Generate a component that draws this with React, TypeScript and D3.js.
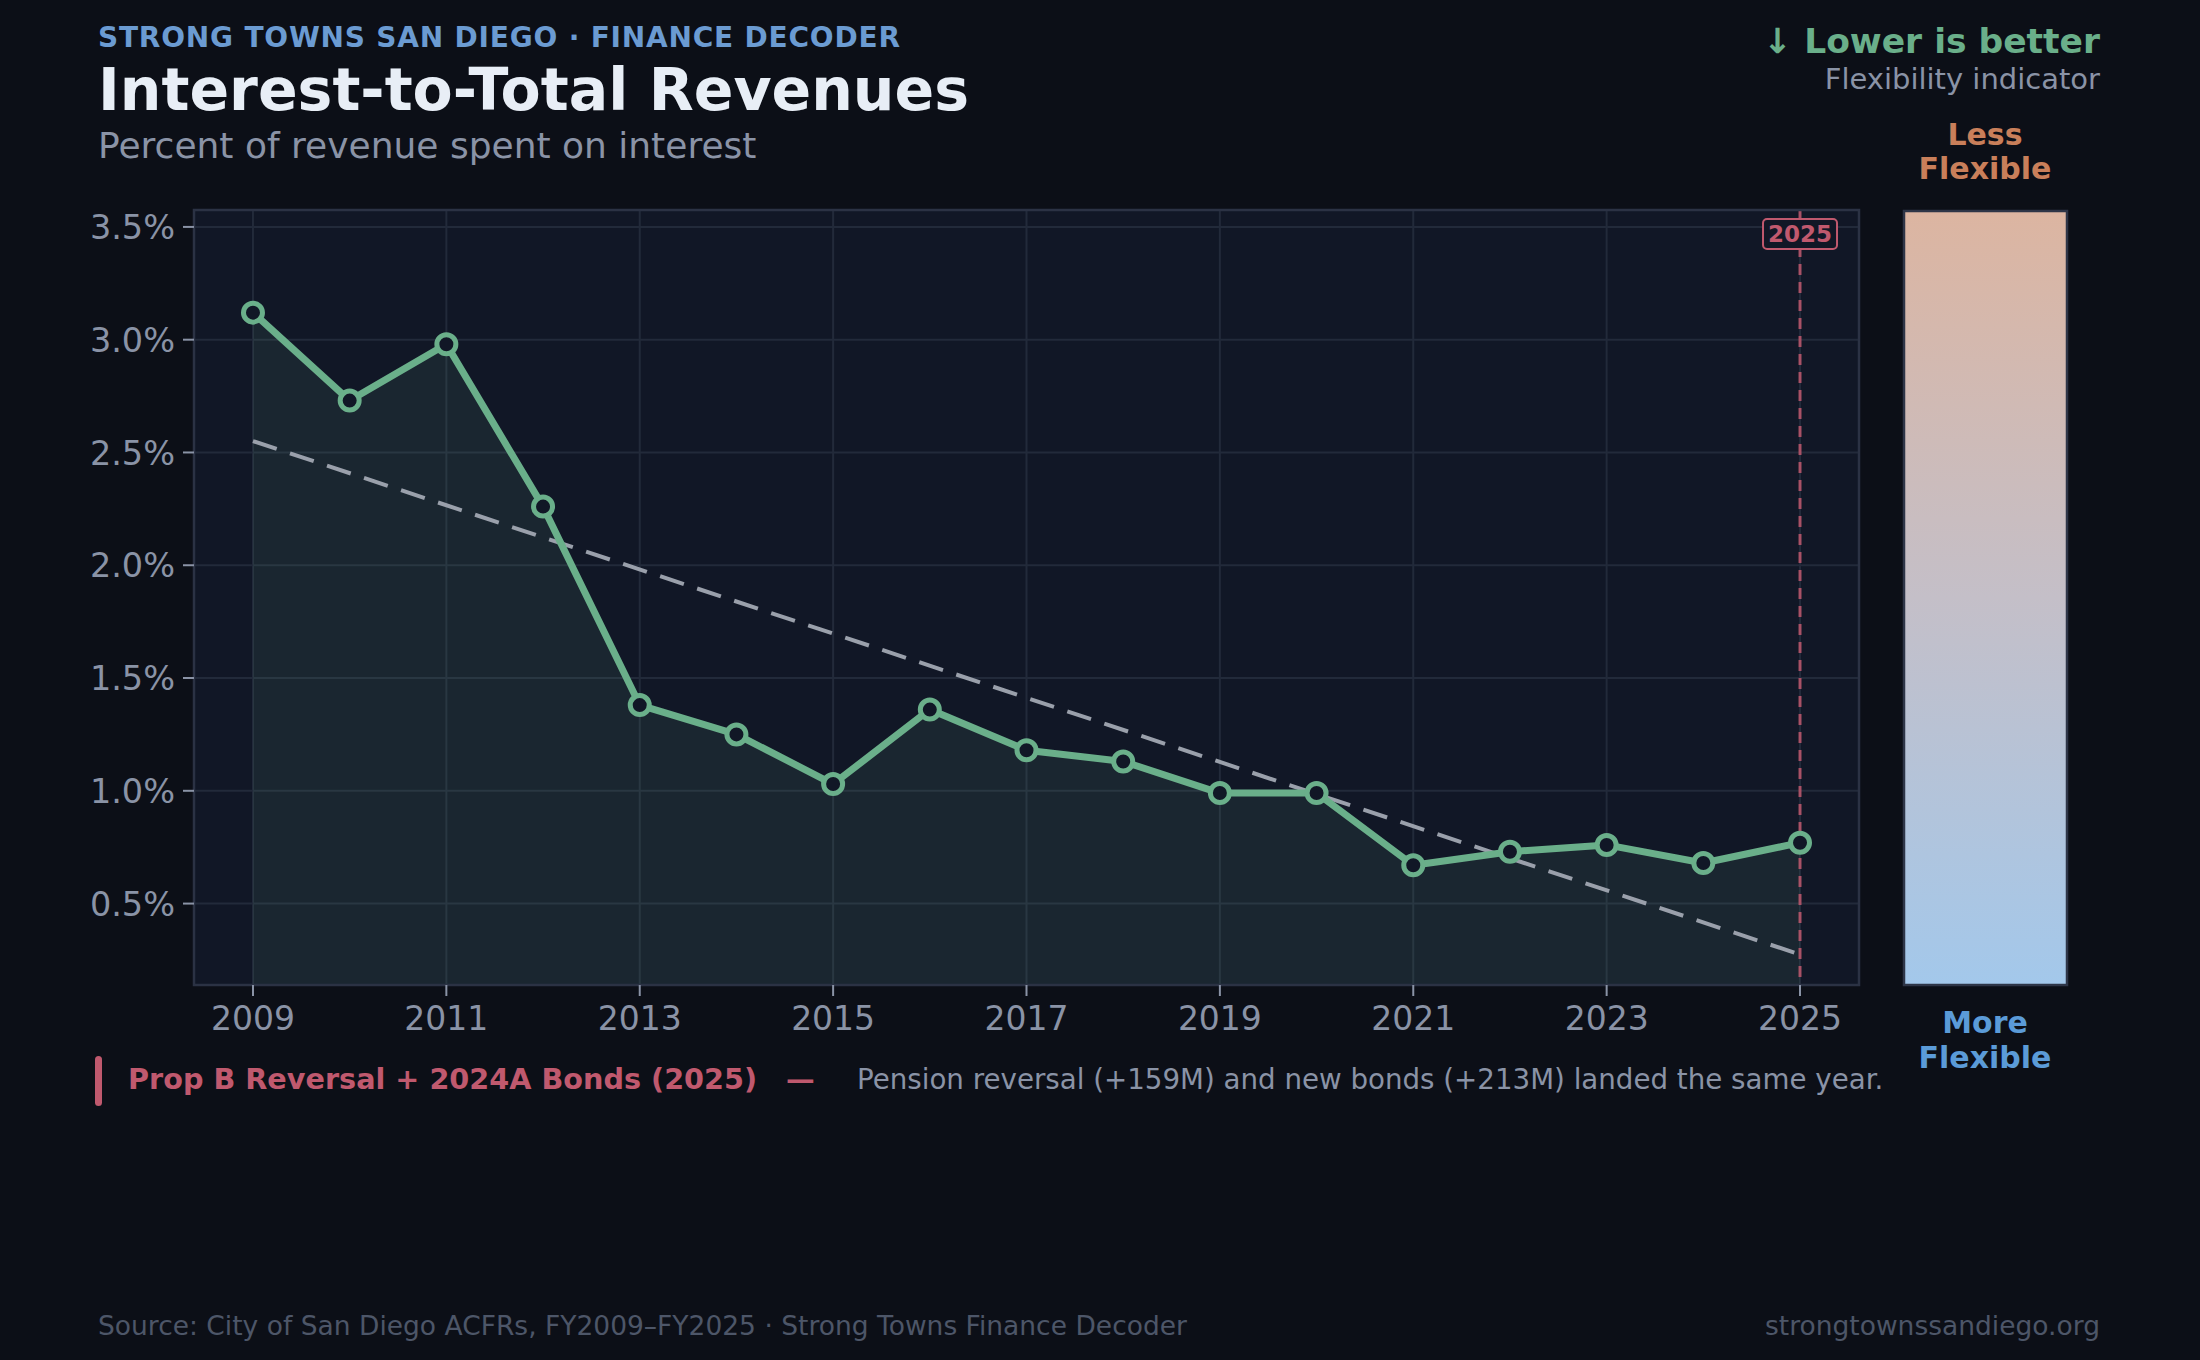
import React from "react";
import * as d3 from "d3";

const years = [2009, 2010, 2011, 2012, 2013, 2014, 2015, 2016, 2017, 2018, 2019, 2020, 2021, 2022, 2023, 2024, 2025];
const ratios = [3.12, 2.73, 2.98, 2.26, 1.38, 1.25, 1.03, 1.36, 1.18, 1.13, 0.99, 0.99, 0.67, 0.73, 0.76, 0.68, 0.77];
const yTicks = [0.5, 1.0, 1.5, 2.0, 2.5, 3.0, 3.5];
const xTicks = [2009, 2011, 2013, 2015, 2017, 2019, 2021, 2023, 2025];
const markerYear = 2025;

const W = 2200;
const H = 1360;
const FONT = "DejaVu Sans, Verdana, sans-serif";
const plot = { left: 194, right: 1859, top: 210, bottom: 985 };

export default function App() {
  const x = d3.scaleLinear().domain([2008.39, 2025.61]).range([plot.left, plot.right]);
  const y = d3.scaleLinear().domain([0.139, 3.575]).range([plot.bottom, plot.top]);
  const pts = years.map((yr, i) => ({ yr, v: ratios[i] }));

  const line = d3.line<{ yr: number; v: number }>().x((d) => x(d.yr)).y((d) => y(d.v));
  const area = d3
    .area<{ yr: number; v: number }>()
    .x((d) => x(d.yr))
    .y0(plot.bottom)
    .y1((d) => y(d.v));

  // least-squares trend
  const mx = d3.mean(years)!;
  const my = d3.mean(ratios)!;
  const sxy = d3.sum(years, (yr, i) => (yr - mx) * (ratios[i] - my));
  const sxx = d3.sum(years, (yr) => (yr - mx) ** 2);
  const slope = sxy / sxx;
  const trend = (yr: number) => my + slope * (yr - mx);
  const x0 = years[0];
  const x1 = years[years.length - 1];

  const green = "#6aaf8a";
  const pink = "#c0596e";
  const tickColor = "#8a93a6";
  const grid = "#222a3a";

  return (
    <svg width={W} height={H} style={{ display: "block", position: "absolute", left: 0, top: 0 }} fontFamily={FONT}>
      <defs>
        <linearGradient id="flex" x1="0" y1="0" x2="0" y2="1">
          <stop offset="0%" stopColor="#dcb5a1" />
          <stop offset="50%" stopColor="#c4bfc8" />
          <stop offset="100%" stopColor="#a3c8eb" />
        </linearGradient>
        <clipPath id="plotclip">
          <rect x={plot.left} y={plot.top} width={plot.right - plot.left} height={plot.bottom - plot.top} />
        </clipPath>
      </defs>
      <rect x={0} y={0} width={W} height={H} fill="#0c0f17" />

      {/* header */}
      <text x={98} y={47} fill="#6b9bd2" fontSize={28} fontWeight="bold" letterSpacing={0.8}>
        STRONG TOWNS SAN DIEGO · FINANCE DECODER
      </text>
      <text x={98} y={110} fill="#e8eef6" fontSize={58.5} fontWeight="bold">
        Interest-to-Total Revenues
      </text>
      <text x={98} y={158} fill="#8a93a6" fontSize={36}>
        Percent of revenue spent on interest
      </text>
      <text x={2100} y={53} fill={green} fontSize={34.5} fontWeight="bold" textAnchor="end">
        ↓ Lower is better
      </text>
      <text x={2100} y={89} fill="#8a93a6" fontSize={29} textAnchor="end">
        Flexibility indicator
      </text>

      {/* plot bg */}
      <rect x={plot.left} y={plot.top} width={plot.right - plot.left} height={plot.bottom - plot.top} fill="#111726" />

      {/* grid */}
      {yTicks.map((t) => (
        <line key={"gy" + t} x1={plot.left} x2={plot.right} y1={y(t)} y2={y(t)} stroke={grid} strokeWidth={2} />
      ))}
      {xTicks.map((t) => (
        <line key={"gx" + t} x1={x(t)} x2={x(t)} y1={plot.top} y2={plot.bottom} stroke={grid} strokeWidth={2} />
      ))}

      <g clipPath="url(#plotclip)">
        <path d={area(pts)!} fill="rgba(106,175,138,0.1)" />
        <line
          x1={x(x0)}
          y1={y(trend(x0))}
          x2={x(x1)}
          y2={y(trend(x1))}
          stroke="#9aa0ab"
          strokeWidth={4}
          strokeDasharray="25 14"
        />
        <line
          x1={x(markerYear)}
          x2={x(markerYear)}
          y1={plot.top}
          y2={plot.bottom}
          stroke={pink}
          strokeWidth={3}
          strokeDasharray="11 7"
          opacity={0.85}
        />
        <path d={line(pts)!} fill="none" stroke={green} strokeWidth={7} strokeLinejoin="round" />
        {pts.map((d) => (
          <circle key={d.yr} cx={x(d.yr)} cy={y(d.v)} r={9.5} fill="#111726" stroke={green} strokeWidth={5} />
        ))}
      </g>

      {/* 2025 label */}
      <g>
        <rect x={x(markerYear) - 37} y={219} width={74} height={30} rx={4} fill="#111726" stroke={pink} strokeWidth={2} />
        <text x={x(markerYear)} y={242} fill={pink} fontSize={23} fontWeight="bold" textAnchor="middle">
          {markerYear}
        </text>
      </g>

      {/* border */}
      <rect
        x={plot.left}
        y={plot.top}
        width={plot.right - plot.left}
        height={plot.bottom - plot.top}
        fill="none"
        stroke="#2b3244"
        strokeWidth={2.5}
      />

      {/* y axis */}
      {yTicks.map((t) => (
        <g key={"yt" + t}>
          <line x1={plot.left - 11} x2={plot.left} y1={y(t)} y2={y(t)} stroke={tickColor} strokeWidth={2} />
          <text x={plot.left - 19} y={y(t)} dy="0.36em" fill={tickColor} fontSize={33.5} textAnchor="end">
            {t.toFixed(1)}%
          </text>
        </g>
      ))}
      {/* x axis */}
      {xTicks.map((t) => (
        <g key={"xt" + t}>
          <line x1={x(t)} x2={x(t)} y1={plot.bottom} y2={plot.bottom + 11} stroke={tickColor} strokeWidth={2} />
          <text x={x(t)} y={1030} fill={tickColor} fontSize={33} textAnchor="middle">
            {t}
          </text>
        </g>
      ))}

      {/* flexibility bar */}
      <text x={1985} y={145} fill="#c97f5a" fontSize={30} fontWeight="bold" textAnchor="middle">
        Less
      </text>
      <text x={1985} y={179} fill="#c97f5a" fontSize={30} fontWeight="bold" textAnchor="middle">
        Flexible
      </text>
      <rect x={1904} y={211} width={163} height={774} fill="url(#flex)" stroke="#2e3547" strokeWidth={2.5} />
      <text x={1985} y={1033} fill="#5b9bd8" fontSize={30} fontWeight="bold" textAnchor="middle">
        More
      </text>
      <text x={1985} y={1068} fill="#5b9bd8" fontSize={30} fontWeight="bold" textAnchor="middle">
        Flexible
      </text>

      {/* annotation */}
      <rect x={95} y={1056} width={7} height={50} rx={3.5} fill={pink} />
      <text x={128} y={1089} fill={pink} fontSize={28.7} fontWeight="bold">
        Prop B Reversal + 2024A Bonds (2025)
      </text>
      <text x={786} y={1089} fill={pink} fontSize={28.7} fontWeight="bold">
        —
      </text>
      <text x={857} y={1089} fill="#8a93a6" fontSize={27.7}>
        Pension reversal (+159M) and new bonds (+213M) landed the same year.
      </text>

      {/* footer */}
      <text x={98} y={1335} fill="#4d5668" fontSize={26.5}>
        Source: City of San Diego ACFRs, FY2009–FY2025 · Strong Towns Finance Decoder
      </text>
      <text x={2100} y={1335} fill="#4d5668" fontSize={26.5} textAnchor="end">
        strongtownssandiego.org
      </text>
    </svg>
  );
}
